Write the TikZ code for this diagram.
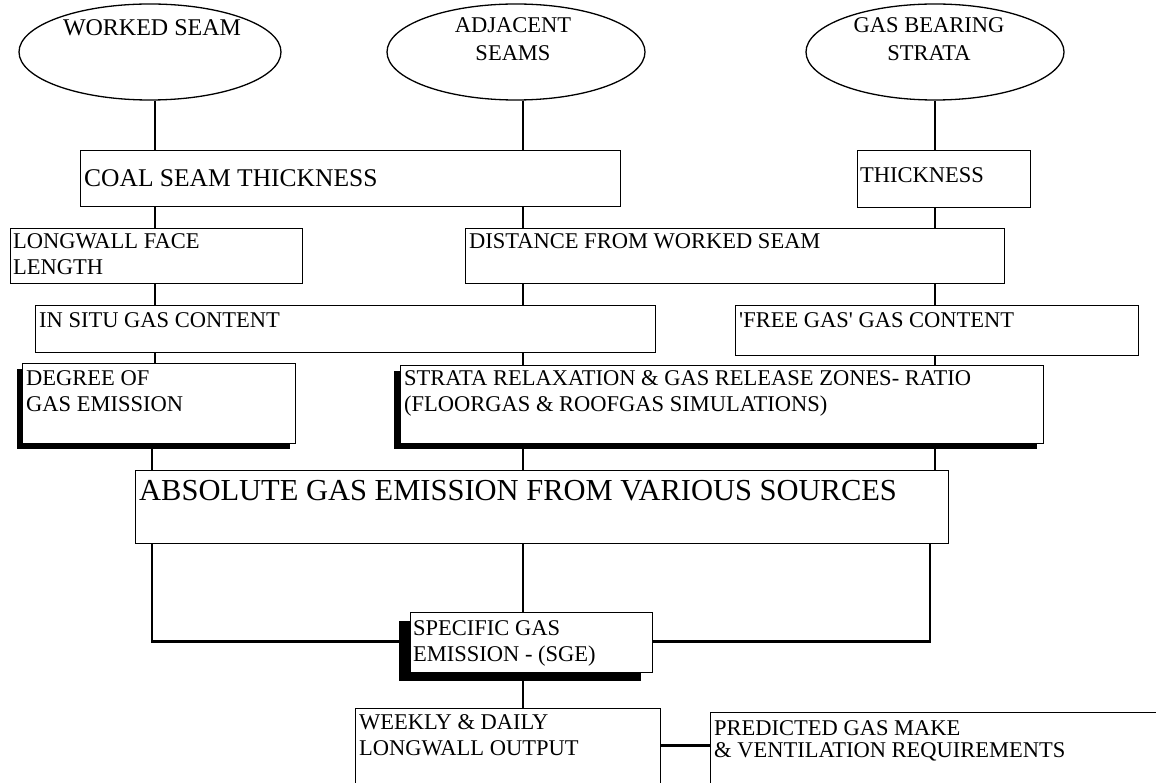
\documentclass[tikz,border=0pt]{standalone}
\usepackage{fontspec}
\setmainfont{Liberation Serif}
\usetikzlibrary{shapes.geometric,shadows}
\begin{document}
\begin{tikzpicture}[x=1pt,y=-1pt,
  box/.style={draw, line width=1.3pt, fill=white, inner sep=0pt, anchor=north west},
  oval/.style={draw, ellipse, line width=1.3pt, fill=white, inner sep=0pt},
  txt/.style={inner sep=0pt, anchor=north west, align=left, font=\fontsize{22.5}{26}\selectfont},
  otxt/.style={inner sep=0pt, anchor=north, align=center, font=\fontsize{22.5}{28}\selectfont},
  link/.style={line width=2.8pt}]
\useasboundingbox (0,0) rectangle (1156,783);
\fill[white] (0,0) rectangle (1156,783);
% columns
\coordinate (c1) at (155,0);
\coordinate (c1b) at (152,0);
\coordinate (c2) at (523,0);
\coordinate (c3) at (935,0);
\coordinate (c3b) at (930,0);
% ellipses
\node[oval, minimum width=262pt, minimum height=96pt] (ws) at (150,52) {};
\node[oval, minimum width=258pt, minimum height=96pt] (as) at (516,52) {};
\node[oval, minimum width=258pt, minimum height=96pt] (gb) at (935,52) {};
\node[otxt, font=\fontsize{24}{28}\selectfont] (ws-t) at (152,19) {WORKED SEAM};
\node[otxt] (as-t) at (513,17) {ADJACENT\\SEAMS};
\node[otxt] (gb-t) at (929,17) {GAS BEARING\\STRATA};
% boxes
\node[box, minimum width=540pt, minimum height=56pt] (coal) at (80,150) {};
\node[box, minimum width=173pt, minimum height=57pt] (thick) at (857,150) {};
\node[box, minimum width=292pt, minimum height=55pt] (long) at (10,228) {};
\node[box, minimum width=539pt, minimum height=55pt] (dist) at (465,228) {};
\node[box, minimum width=620pt, minimum height=47pt] (insitu) at (35,305) {};
\node[box, minimum width=403pt, minimum height=50pt] (free) at (735,305) {};
\node[box, minimum width=273pt, minimum height=80pt,
      drop shadow={shadow xshift=-6pt,shadow yshift=-5pt,opacity=1,fill=black}] (degree) at (22,363) {};
\node[box, minimum width=643pt, minimum height=78pt,
      drop shadow={shadow xshift=-7pt,shadow yshift=-5pt,opacity=1,fill=black}] (strata) at (400,365) {};
\node[box, minimum width=813pt, minimum height=73pt] (abs) at (135,470) {};
\node[box, minimum width=242pt, minimum height=60pt,
      drop shadow={shadow xshift=-12pt,shadow yshift=-8pt,opacity=1,fill=black}] (spec) at (410,612) {};
\node[box, minimum width=305pt, minimum height=80pt] (weekly) at (355,708) {};
\node[box, minimum width=470pt, minimum height=100pt] (pred) at (710,712) {};
% texts
\node[txt, font=\fontsize{25.5}{30}\selectfont] (coal-t) at (84,169) {COAL SEAM THICKNESS};
\node[txt] (thick-t) at (860,167) {THICKNESS};
\node[txt] (long-t) at (13,233) {LONGWALL FACE\\LENGTH};
\node[txt] (dist-t) at (469,233) {DISTANCE FROM WORKED SEAM};
\node[txt] (insitu-t) at (39,312) {IN SITU GAS CONTENT};
\node[txt] (free-t) at (739,312) {\textquotesingle FREE GAS\textquotesingle\ GAS CONTENT};
\node[txt] (degree-t) at (26,370) {DEGREE OF\\GAS EMISSION};
\node[txt] (strata-t) at (404,370) {STRATA RELAXATION \& GAS RELEASE ZONES- RATIO\\(FLOORGAS \& ROOFGAS SIMULATIONS)};
\node[txt, font=\fontsize{30.5}{34}\selectfont] (abs-t) at (139,480) {ABSOLUTE GAS EMISSION FROM VARIOUS SOURCES};
\node[txt] (spec-t) at (413,620) {SPECIFIC GAS\\EMISSION - (SGE)};
\node[txt] (weekly-t) at (359,714) {WEEKLY \& DAILY\\LONGWALL OUTPUT};
\node[txt, font=\fontsize{22.5}{22}\selectfont] (pred-t) at (714,720) {PREDICTED GAS MAKE\\\& VENTILATION REQUIREMENTS};
% connectors
\draw[link] (ws.south -| c1) -- (coal.north -| c1);
\draw[link] (as.south -| c2) -- (coal.north -| c2);
\draw[link] (gb.south -| c3) -- (thick.north -| c3);
\draw[link] (coal.south -| c1) -- (long.north -| c1);
\draw[link] (coal.south -| c2) -- (dist.north -| c2);
\draw[link] (thick.south -| c3) -- (dist.north -| c3);
\draw[link] (long.south -| c1) -- (insitu.north -| c1);
\draw[link] (dist.south -| c2) -- (insitu.north -| c2);
\draw[link] (dist.south -| c3) -- (free.north -| c3);
\draw[link] (insitu.south -| c1) -- (degree.north -| c1);
\draw[link] (insitu.south -| c2) -- (strata.north -| c2);
\draw[link] (free.south -| c3) -- (strata.north -| c3);
\draw[link] (degree.south -| c1b) -- (abs.north -| c1b);
\draw[link] (strata.south -| c2) -- (abs.north -| c2);
\draw[link] (strata.south -| c3) -- (abs.north -| c3);
\draw[link] (abs.south -| c2) -- (spec.north -| c2);
\draw[link] (abs.south -| c1b) |- ([yshift=1pt]spec.west);
\draw[link] (abs.south -| c3b) |- ([yshift=1pt]spec.east);
\draw[link] (spec.south -| c2) -- (weekly.north -| c2);
\draw[line width=3.5pt] ([yshift=3pt]weekly.east) -- ([yshift=3pt]weekly.east -| pred.west);
\end{tikzpicture}
\end{document}
